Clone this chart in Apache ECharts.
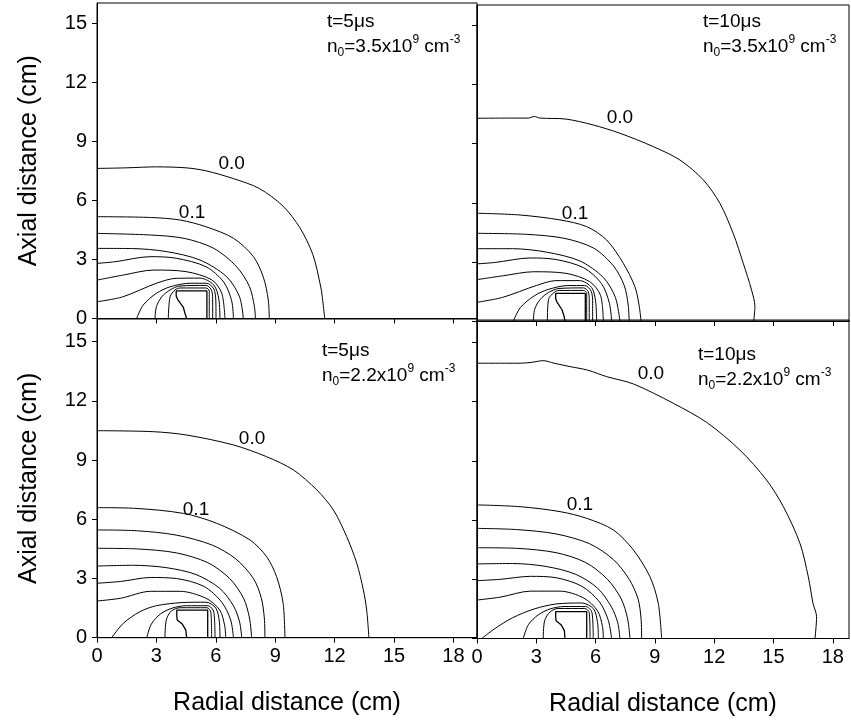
<!DOCTYPE html>
<html>
<head>
<meta charset="utf-8">
<script src="https://cdn.jsdelivr.net/npm/echarts@6/dist/echarts.min.js"></script>
<style>
  html, body { margin: 0; padding: 0; background: #fff; }
  #chart { width: 851px; height: 727px; }
</style>
</head>
<body>
<div id="chart"></div>
<script>
// tick values
var xTicks = [0, 3, 6, 9, 12, 15, 18];
var yTicks = [0, 3, 6, 9, 12, 15];

// contour lines [r, z] in cm (outermost 0.0 first)
var contoursTL = [
    [[0,7.62],[1.5,7.65],[3.0,7.7],[4.5,7.65],[5.5,7.5],[6.9,7.1],[8.2,6.6],[9.4,5.7],[10.25,4.6],[10.9,3.25],[11.3,1.6],[11.4,0.9],[11.5,0]],
    [[0,5.17],[2.7,5.13],[4.2,5.0],[5.5,4.66],[6.9,4.07],[7.9,3.14],[8.4,2.1],[8.65,0.94],[8.7,0]],
    [[0,4.32],[2.7,4.24],[4.4,4.07],[5.9,3.56],[7.05,2.63],[7.7,1.62],[7.95,0.6],[8.0,0]],
    [[0,3.56],[1.8,3.55],[3.5,3.4],[5.2,2.97],[6.55,2.12],[7.2,1.1],[7.39,0]],
    [[0,2.8],[0.9,2.88],[2.7,3.14],[4.0,3.06],[5.5,2.63],[6.4,1.85],[6.8,0.9],[6.89,0]],
    [[0,1.95],[1.35,2.21],[2.86,2.46],[4.5,2.38],[5.8,1.96],[6.3,1.28],[6.46,0]],
    [[0,0.85],[1.3,1.1],[3.0,1.79],[4.0,2.04],[5.2,2.05],[5.9,1.7],[6.15,1.0],[6.21,0]],
    [[2.0,0],[2.34,0.69],[3.0,1.28],[3.69,1.61],[4.7,1.79],[5.54,1.79],[5.9,1.5],[6.0,0.9],[6.01,0]],
    [[2.93,0],[3.0,0.6],[3.27,1.1],[3.69,1.45],[4.19,1.65],[5.5,1.68],[5.75,1.5],[5.84,1.1],[5.84,0]],
    [[3.6,0],[3.69,1.1],[3.94,1.45],[4.2,1.55],[5.5,1.55],[5.67,1.4],[5.67,0]]
];
var contoursTR = [
    [[0,10.29],[1.5,10.3],[2.6,10.3],[2.9,10.38],[3.2,10.3],[4.5,10.25],[5.88,9.95],[7.23,9.53],[8.92,8.85],[10.27,8.17],[11.45,7.16],[12.29,5.97],[12.96,4.45],[13.47,2.93],[13.89,1.57],[14.06,0.74],[14.0,0]],
    [[0,5.47],[2.18,5.38],[4.2,5.13],[5.55,4.79],[6.56,4.11],[7.4,2.93],[7.99,1.74],[8.2,0.8],[8.3,0]],
    [[0,4.45],[2.5,4.4],[4.4,4.2],[5.9,3.7],[6.9,2.8],[7.45,1.8],[7.65,0.8],[7.7,0]],
    [[0,3.67],[1.8,3.67],[3.5,3.5],[5.2,3.05],[6.4,2.2],[7.0,1.2],[7.23,0]],
    [[0,2.9],[0.9,2.97],[2.7,3.2],[4.0,3.12],[5.4,2.7],[6.3,1.9],[6.7,0.9],[6.81,0]],
    [[0,2.1],[1.35,2.3],[2.86,2.5],[4.5,2.42],[5.7,2.0],[6.25,1.3],[6.39,0]],
    [[0,0.95],[1.3,1.2],[3.0,1.8],[4.0,2.05],[5.2,2.05],[5.8,1.7],[6.0,1.0],[6.05,0]],
    [[1.84,0],[2.2,0.69],[2.9,1.28],[3.6,1.6],[4.6,1.8],[5.45,1.8],[5.78,1.5],[5.85,0.9],[5.85,0]],
    [[2.85,0],[2.92,0.6],[3.2,1.1],[3.62,1.45],[4.15,1.65],[5.4,1.68],[5.62,1.5],[5.68,1.1],[5.68,0]],
    [[3.56,0],[3.62,1.1],[3.9,1.45],[4.15,1.55],[5.4,1.55],[5.55,1.4],[5.55,0]]
];
var contoursBL = [
    [[0,10.49],[2.84,10.44],[4.53,10.27],[6.88,9.77],[8.57,9.17],[9.92,8.5],[11.1,7.49],[11.94,6.47],[12.61,5.12],[13.12,3.77],[13.45,2.42],[13.62,1.4],[13.73,0]],
    [[0,6.59],[1.83,6.56],[4.36,6.3],[6.04,5.8],[7.73,4.95],[8.57,4.1],[9.07,3.09],[9.4,1.74],[9.49,0]],
    [[0,5.46],[2.0,5.42],[4.0,5.2],[5.8,4.7],[7.0,4.0],[7.9,3.0],[8.3,2.0],[8.45,1.0],[8.48,0]],
    [[0,4.53],[2.0,4.5],[4.0,4.3],[5.6,3.8],[6.7,3.0],[7.4,2.0],[7.7,1.0],[7.81,0]],
    [[0,3.63],[1.8,3.67],[3.5,3.55],[5.0,3.2],[6.2,2.5],[6.9,1.6],[7.2,0.8],[7.31,0]],
    [[0,2.76],[1.2,2.85],[2.7,3.05],[4.0,3.0],[5.4,2.6],[6.3,1.8],[6.75,0.9],[6.89,0]],
    [[0,1.86],[1.2,2.0],[2.7,2.35],[4.2,2.35],[5.5,2.0],[6.2,1.4],[6.45,0.6],[6.5,0]],
    [[0.74,0],[1.33,0.73],[2.17,1.32],[3.0,1.62],[4.3,1.78],[5.5,1.8],[6.0,1.5],[6.18,0.8],[6.21,0]],
    [[2.51,0],[2.75,0.7],[3.2,1.2],[3.8,1.5],[4.5,1.62],[5.6,1.62],[5.9,1.3],[5.96,0]],
    [[3.43,0],[3.5,0.9],[3.75,1.35],[4.2,1.52],[5.55,1.52],[5.75,1.3],[5.79,0]]
];
var contoursBR = [
    [[0,13.95],[1.5,13.95],[2.18,13.95],[2.8,14.0],[3.35,14.08],[3.9,13.95],[4.7,13.78],[5.6,13.6],[6.56,13.27],[7.91,12.9],[9.93,11.92],[11.62,10.95],[13.3,9.55],[14.65,8.03],[15.5,6.68],[16.34,4.82],[16.76,3.13],[17.0,1.78],[17.18,1.1],[17.1,0]],
    [[0,6.77],[2.18,6.68],[4.2,6.43],[5.55,6.09],[6.9,5.5],[7.91,4.49],[8.75,3.13],[9.17,1.78],[9.34,0]],
    [[0,5.58],[2.0,5.52],[4.0,5.3],[5.7,4.8],[6.9,4.0],[7.7,3.0],[8.15,2.0],[8.3,1.0],[8.33,0]],
    [[0,4.6],[2.0,4.57],[4.0,4.35],[5.5,3.85],[6.6,3.0],[7.3,2.0],[7.62,1.0],[7.74,0]],
    [[0,3.78],[1.8,3.8],[3.5,3.65],[5.0,3.25],[6.1,2.55],[6.8,1.6],[7.12,0.8],[7.23,0]],
    [[0,2.93],[1.2,3.0],[2.7,3.15],[4.0,3.08],[5.3,2.65],[6.2,1.85],[6.65,0.9],[6.81,0]],
    [[0,1.95],[1.2,2.1],[2.7,2.4],[4.2,2.4],[5.4,2.05],[6.1,1.4],[6.35,0.6],[6.39,0]],
    [[0.24,0],[0.9,0.5],[1.8,1.05],[2.9,1.5],[4.0,1.75],[5.3,1.8],[5.9,1.5],[6.1,0.8],[6.14,0]],
    [[2.34,0],[2.6,0.7],[3.1,1.2],[3.7,1.5],[4.4,1.62],[5.5,1.62],[5.82,1.3],[5.88,0]],
    [[3.35,0],[3.42,0.9],[3.7,1.35],[4.1,1.52],[5.45,1.52],[5.68,1.3],[5.72,0]]
];

// electrode outline [r, z]
var electrodeTL = [[4.53,0],[4.44,0.27],[4.36,0.57],[4.08,0.96],[4.0,1.13],[4.0,1.4],[5.55,1.4],[5.55,0]];
var electrodeTR = [[4.45,0],[4.4,0.27],[4.3,0.57],[4.05,0.96],[3.98,1.13],[3.98,1.4],[5.48,1.4],[5.48,0]];
var electrodeBL = [[4.53,0],[4.48,0.4],[4.3,0.7],[4.05,0.9],[4.03,1.1],[4.03,1.4],[5.59,1.4],[5.59,0]];
var electrodeBR = [[4.45,0],[4.42,0.4],[4.25,0.7],[4.0,0.9],[3.98,1.1],[3.98,1.36],[5.55,1.36],[5.55,0]];

// contour value labels [r, z, text]
var labelsTL = [[6.8, 7.87, '0.0'], [4.8, 5.36, '0.1']];
var labelsTR = [[7.23, 10.3, '0.0'], [4.96, 5.43, '0.1']];
var labelsBL = [[7.83, 10.07, '0.0'], [5.0, 6.47, '0.1']];
var labelsBR = [[8.8, 13.4, '0.0'], [5.21, 6.77, '0.1']];

var panelTimes = ['5', '10', '5', '10'];
var panelDensity = ['3.5', '3.5', '2.2', '2.2'];

var FONT = '"Liberation Sans", Arial, sans-serif';

var chart = echarts.init(document.getElementById('chart'));

var grids = [
    {left: 97, top: 3, width: 380, height: 315.5},
    {left: 477, top: 5, width: 372, height: 316},
    {left: 97, top: 319, width: 380, height: 318.7},
    {left: 477, top: 320, width: 372, height: 318.5}
];
var xMax = [19.19, 18.82, 19.19, 18.82];
var yMax = [16.02, 16.04, 16.15, 16.14];

var xAxes = [], yAxes = [];
grids.forEach(function (g, i) {
    g.show = true;
    g.borderColor = '#000';
    g.borderWidth = 1;
    var bottomRow = i >= 2;
    var leftCol = i % 2 === 0;
    xAxes.push({
        gridIndex: i, type: 'value', min: 0, max: xMax[i],
        name: bottomRow ? 'Radial distance (cm)' : '',
        nameLocation: 'middle', nameGap: 53,
        nameTextStyle: {fontSize: 25, color: '#000', fontFamily: FONT},
        axisLine: {onZero: false, lineStyle: {color: '#000', width: 1}},
        axisTick: {show: true, length: 5, customValues: xTicks, lineStyle: {color: '#000'}},
        axisLabel: {show: bottomRow, customValues: xTicks, fontSize: 20, color: '#000', fontFamily: FONT, margin: 9},
        splitLine: {show: false}
    });
    yAxes.push({
        gridIndex: i, type: 'value', min: 0, max: yMax[i],
        name: leftCol ? 'Axial distance (cm)' : '',
        nameLocation: 'middle', nameGap: 55, nameRotate: 90,
        nameTextStyle: {fontSize: 25, color: '#000', fontFamily: FONT},
        axisLine: {onZero: false, lineStyle: {color: '#000', width: 1}},
        axisTick: {show: true, length: 5, customValues: yTicks, lineStyle: {color: '#000'}},
        axisLabel: {show: leftCol, customValues: yTicks, fontSize: 20, color: '#000', fontFamily: FONT, margin: 10},
        splitLine: {show: false}
    });
});

function panelSeries(idx, contours, electrode, labels) {
    var list = contours.map(function (c) {
        return {
            type: 'line', xAxisIndex: idx, yAxisIndex: idx, data: c,
            showSymbol: false, smooth: 0.3, silent: true,
            lineStyle: {color: '#000', width: 1}
        };
    });
    list.push({
        type: 'line', xAxisIndex: idx, yAxisIndex: idx, data: electrode,
        showSymbol: false, smooth: false, silent: true,
        lineStyle: {color: '#000', width: 1.3}
    });
    list.push({
        type: 'scatter', xAxisIndex: idx, yAxisIndex: idx, data: labels,
        symbolSize: 0, silent: true,
        itemStyle: {opacity: 1},
        label: {
            show: true, position: 'inside', color: '#000', fontSize: 19, fontFamily: FONT,
            formatter: function (p) { return p.value[2]; }
        }
    });
    return list;
}

var series = [].concat(
    panelSeries(0, contoursTL, electrodeTL, labelsTL),
    panelSeries(1, contoursTR, electrodeTR, labelsTR),
    panelSeries(2, contoursBL, electrodeBL, labelsBL),
    panelSeries(3, contoursBR, electrodeBR, labelsBR)
);

// panel annotations
var notePos = [[327, 9], [703, 9], [322, 338], [698, 342]];
var graphics = notePos.map(function (p, i) {
    return {
        type: 'text', x: p[0], y: p[1], silent: true,
        style: {
            text: '{a|t=' + panelTimes[i] + 'μs}\n{a|n}{b|0}{a|=' + panelDensity[i] + 'x10}{c|9}{a| cm}{c|-3}',
            fill: '#000',
            align: 'left',
            verticalAlign: 'top',
            rich: {
                a: {fontSize: 19, lineHeight: 25, fontFamily: FONT, fill: '#000', align: 'left'},
                b: {fontSize: 12, lineHeight: 12, verticalAlign: 'bottom', fontFamily: FONT, fill: '#000', align: 'left'},
                c: {fontSize: 12, lineHeight: 12, verticalAlign: 'top', fontFamily: FONT, fill: '#000', align: 'left'}
            }
        }
    };
});

chart.setOption({
    backgroundColor: '#fff',
    animation: false,
    grid: grids,
    xAxis: xAxes,
    yAxis: yAxes,
    series: series,
    graphic: graphics
});
</script>
</body>
</html>
